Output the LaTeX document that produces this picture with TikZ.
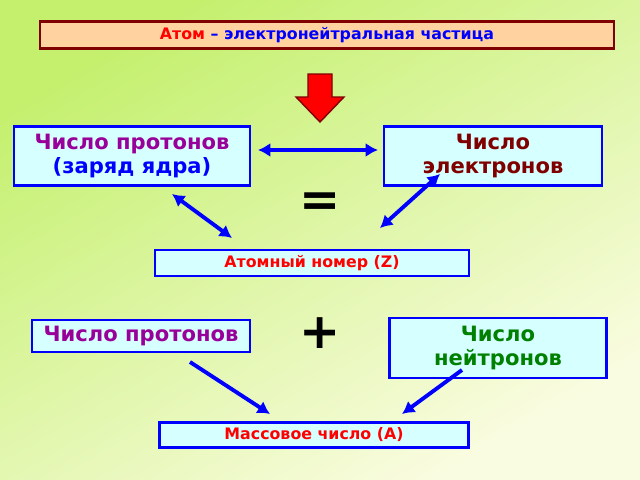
\documentclass[tikz,border=0pt]{standalone}
\usepackage{fontspec}
\setmainfont{DejaVu Sans}
\usetikzlibrary{arrows.meta, positioning}
\definecolor{bggreen}{RGB}{196, 240, 110}
\definecolor{bgpale}{RGB}{250, 252, 225}
\definecolor{boxcyan}{RGB}{214, 255, 255}
\definecolor{barorange}{RGB}{255, 210, 160}
\definecolor{darkred}{RGB}{128, 0, 0}
\definecolor{protpurple}{RGB}{153, 0, 153}
\definecolor{neutgreen}{RGB}{0, 128, 0}
\tikzset{
  infobox/.style={draw=blue, line width=1.4pt, fill=boxcyan, inner sep=2pt,
    font=\bfseries\fontsize{12}{13.5}\selectfont, align=center},
  smallbox/.style={infobox, font=\bfseries\fontsize{9}{10}\selectfont},
  bluearrow/.style={blue, line width=2.2pt, -{Latex[length=7pt,width=8pt]}},
  blueboth/.style={bluearrow, {Latex[length=7pt,width=8pt]}-{Latex[length=7pt,width=8pt]}}
}
\begin{document}
\begin{tikzpicture}[x=0.02cm, y=-0.02cm]
  % Background
  \shade[left color=bggreen, right color=bgpale, shading angle=30] (0,0) rectangle (640,480);
  \useasboundingbox (0,0) rectangle (640,480);
  % Title bar
  \node[draw=darkred, line width=1.4pt, fill=barorange, minimum width=574*0.02cm,
    minimum height=25*0.02cm, font=\bfseries\fontsize{9}{10}\selectfont]
    (title) at (327,35) {\textcolor{red}{Атом} \textcolor{blue}{– электронейтральная частица}};
  % Red arrow
  \draw[darkred, fill=red, thick] (308,74) -- (332,74) -- (332,97) -- (344,97)
    -- (320,122) -- (296,97) -- (308,97) -- cycle;
  % Upper boxes
  \node[infobox, minimum width=236*0.02cm, minimum height=59*0.02cm] (prot) at (132,156)
    {\textcolor{protpurple}{Число протонов}\\\textcolor{blue}{(заряд ядра)}};
  \node[infobox, minimum width=218*0.02cm, minimum height=59*0.02cm] (elec) at (493,156)
    {\textcolor{darkred}{Число}\\\textcolor{darkred}{электронов}};
  \node[font=\bfseries\fontsize{28}{28}\selectfont] (eq) at (320,205) {=};
  \node[smallbox, minimum width=314*0.02cm, minimum height=26*0.02cm] (z) at (312,263)
    {\textcolor{red}{Атомный номер (Z)}};
  % Lower boxes
  \node[font=\bfseries\fontsize{28}{28}\selectfont] (plus) at (320,333) {+};
  \node[infobox, minimum width=218*0.02cm, minimum height=32*0.02cm] (prot2) at (141,336)
    {\textcolor{protpurple}{Число протонов}};
  \node[infobox, minimum width=217*0.02cm, minimum height=60*0.02cm] (neut) at (498,348)
    {\textcolor{neutgreen}{Число}\\\textcolor{neutgreen}{нейтронов}};
  \node[smallbox, minimum width=309*0.02cm, minimum height=25*0.02cm] (a) at (314,435)
    {\textcolor{red}{Массовое число (A)}};
  % Arrows
  \coordinate (p1) at (258,150); \coordinate (p2) at (378,150);
  \coordinate (p3) at (172,194); \coordinate (p4) at (232,238);
  \coordinate (p5) at (440,174); \coordinate (p6) at (380,228);
  \coordinate (p7) at (190,362); \coordinate (p8) at (270,414);
  \coordinate (p9) at (462,370); \coordinate (p10) at (402,414);
  \draw[blueboth] (p1) -- (p2);
  \draw[blueboth] (p3) -- (p4);
  \draw[blueboth] (p5) -- (p6);
  \draw[bluearrow] (p7) -- (p8);
  \draw[bluearrow] (p9) -- (p10);
\end{tikzpicture}
\end{document}
